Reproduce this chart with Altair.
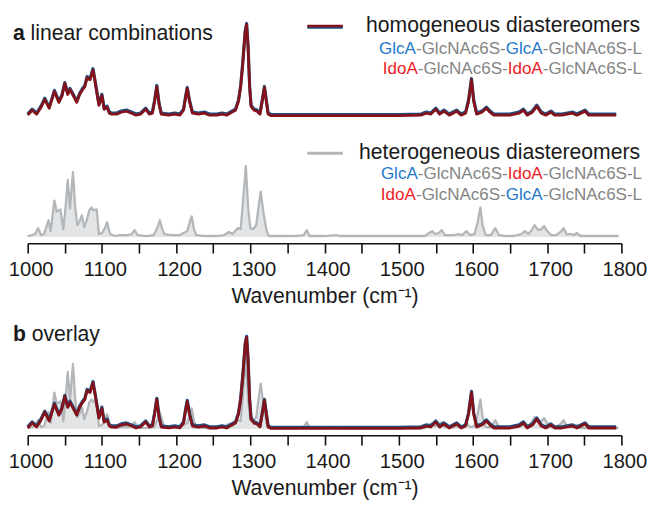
import altair as alt
import pandas as pd

FONT = "Liberation Sans"

# ---------------- data ----------------
homo_wn = [1000, 1006, 1012, 1018, 1023, 1029, 1036, 1042, 1046, 1050, 1054, 1057, 1062, 1066, 1070,
           1074, 1077, 1080, 1084, 1088, 1091, 1094, 1096, 1100, 1103, 1107, 1110, 1113, 1120, 1126,
           1133, 1140, 1146, 1152, 1159, 1164, 1168, 1171, 1174, 1177, 1180, 1190, 1198, 1205, 1210,
           1213, 1215, 1218, 1222, 1230, 1238, 1245, 1255, 1262, 1268, 1275, 1280, 1284, 1287, 1290,
           1293, 1295, 1297, 1299, 1301, 1305, 1309, 1313, 1316, 1319, 1321, 1324, 1328, 1360, 1400,
           1450, 1500, 1530, 1537, 1543, 1550, 1555, 1561, 1568, 1578, 1584, 1590, 1594, 1598, 1601,
           1605, 1612, 1618, 1623, 1628, 1650, 1662, 1668, 1673, 1680, 1686, 1692, 1698, 1705, 1710,
           1720, 1727, 1734, 1740, 1751, 1756, 1770, 1793]
homo_int = [1, 6, 2, 9, 17, 8, 25, 14, 20, 33, 22, 27, 20, 14, 22,
            27, 30, 39, 37, 47, 34, 20, 11, 21, 7, 9, 3, 2, 2, 4,
            5, 3, 1, 2, 7, 2, 3, 15, 30, 12, 2, 1, 2, 1, 6,
            20, 28, 15, 3, 2, 3, 1, 1, 2, 1, 4, 6, 15, 30, 55,
            85, 93, 70, 30, 10, 6, 5, 2, 15, 29, 18, 2, 0.5, 0.5, 0.5,
            0.5, 0.5, 1, 3, 2, 7, 2, 5, 1, 5, 1, 3, 15, 37, 15,
            2, 4, 8, 4, 1, 1, 3, 6, 1, 4, 10, 3, 1, 4, 1,
            1, 2, 3, 1, 5, 1, 1, 1]

het_wn = [1000, 1006, 1010, 1014, 1018, 1022, 1028, 1031, 1036, 1039, 1044, 1048, 1051, 1054, 1057,
          1061, 1064, 1067, 1070, 1073, 1076, 1080, 1083, 1086, 1089, 1093, 1096, 1100, 1104, 1107,
          1111, 1118, 1125, 1135, 1140, 1144, 1148, 1160, 1170, 1175, 1178, 1181, 1184, 1195, 1205,
          1215, 1218, 1221, 1224, 1227, 1240, 1255, 1265, 1271, 1276, 1283, 1287, 1290, 1294, 1297,
          1300, 1304, 1308, 1311, 1314, 1318, 1322, 1325, 1340, 1360, 1372, 1376, 1380, 1400, 1416,
          1420, 1500, 1535, 1541, 1545, 1549, 1554, 1558, 1562, 1575, 1580, 1586, 1591, 1596, 1602,
          1606, 1610, 1613, 1617, 1624, 1630, 1635, 1645, 1655, 1665, 1670, 1675, 1680, 1683, 1688,
          1692, 1696, 1700, 1705, 1712, 1718, 1722, 1726, 1732, 1736, 1740, 1745, 1760, 1780, 1796]
het_int = [1, 2, 3, 9, 2, 3, 17, 6, 37, 26, 28, 8, 30, 58, 29,
           66, 30, 12, 16, 22, 10, 18, 27, 30, 27, 28, 3, 4, 9, 15,
           3, 1, 2, 2, 3, 7, 2, 1, 2, 10, 17, 9, 3, 2, 2,
           6, 14, 21, 8, 2, 1, 1, 2, 5, 3, 9, 8, 35, 72, 30,
           9, 8, 12, 30, 46, 23, 6, 1, 1, 1, 2, 7, 1, 1, 2,
           1, 1, 1, 4, 6, 3, 4, 7, 2, 2, 3, 2, 6, 2, 3,
           14, 30, 12, 2, 2, 9, 2, 1, 1, 3, 6, 3, 8, 12, 7,
           8, 11, 6, 2, 2, 5, 9, 3, 3, 2, 4, 1, 1, 1, 1]

tick_values = [1000, 1050, 1100, 1150, 1200, 1250, 1300, 1350, 1400,
               1450, 1500, 1550, 1600, 1650, 1700, 1750, 1800]
x_domain = [1000, 1800]

# ---------------- style ----------------
RED = "#84121a"
BLUE = "#1f4f82"
GRAYL = "#b3b7ba"
FILL = "#e2e4e6"
TXT = "#1a1a1a"
BLUE_T = "#1f78c8"
RED_T = "#ee1c25"
GRAY_T = "#858585"

PW = 603
TITLE_SIZE = 21.5
SUB_SIZE = 17.3

title_a = ("a", "linear combinations")
title_b = ("b", "overlay")
homo_name = "homogeneous diastereomers"
het_name = "heterogeneous diastereomers"
homo_labels = [
    [("GlcA", BLUE_T), ("-GlcNAc6S-", GRAY_T), ("GlcA", BLUE_T), ("-GlcNAc6S-L", GRAY_T)],
    [("IdoA", RED_T), ("-GlcNAc6S-", GRAY_T), ("IdoA", RED_T), ("-GlcNAc6S-L", GRAY_T)],
]
het_labels = [
    [("GlcA", BLUE_T), ("-GlcNAc6S-", GRAY_T), ("IdoA", RED_T), ("-GlcNAc6S-L", GRAY_T)],
    [("IdoA", RED_T), ("-GlcNAc6S-", GRAY_T), ("GlcA", BLUE_T), ("-GlcNAc6S-L", GRAY_T)],
]

# Arial / Liberation Sans advance widths (1/1000 em)
AW = {'G': 778, 'l': 222, 'c': 500, 'A': 667, '-': 333, 'N': 722, '6': 556, 'S': 667,
      'L': 556, 'I': 278, 'd': 556, 'o': 556}


def tw(s, size):
    return sum(AW[ch] for ch in s) * size / 1000.0


ONE = pd.DataFrame({"k": [0]})


def txt(x, y, s, color, size, align="left", weight="normal"):
    return alt.Chart(ONE).mark_text(
        text=s, align=align, baseline="alphabetic", font=FONT, fontSize=size,
        fontWeight=weight, color=color
    ).encode(x=alt.value(x), y=alt.value(y))


def seg_layers(parts, right, y, size):
    out = []
    xr = right
    for s, color in reversed(parts):
        out.append(txt(xr, y, s, color, size, align="right"))
        xr -= tw(s, size)
    return out


def rule(x1, x2, y, color, w):
    return alt.Chart(ONE).mark_rule(color=color, strokeWidth=w).encode(
        x=alt.value(x1), x2=alt.value(x2), y=alt.value(y))


x_axis = alt.Axis(values=tick_values, format="d",
                  labelExpr="datum.value % 100 == 0 ? datum.label : ''",
                  title="Wavenumber (cm⁻¹)", grid=False,
                  tickSize=10, tickWidth=1.6, tickColor="#111111",
                  domainColor="#111111", domainWidth=1.6,
                  labelFont=FONT, labelFontSize=20.5, labelColor=TXT, labelPadding=7,
                  labelOffset=3, labelOverlap=False, labelFlush=False,
                  titleFont=FONT, titleFontSize=TITLE_SIZE, titleFontWeight="normal",
                  titleColor=TXT, titlePadding=6)

homo_df = pd.DataFrame({"wn": homo_wn, "v": homo_int})
het_df = pd.DataFrame({"wn": het_wn, "v": het_int})


def xe(axis):
    return alt.X("wn:Q", scale=alt.Scale(domain=x_domain, nice=False, zero=False), axis=axis)


def ye(dom):
    return alt.Y("v:Q", scale=alt.Scale(domain=dom, nice=False, zero=False), axis=None)


def homo_layers(axis, dom):
    blue = alt.Chart(homo_df).mark_line(color=BLUE, strokeWidth=3.2, yOffset=-1.2,
                                        strokeJoin="round").encode(x=xe(axis), y=ye(dom))
    red = alt.Chart(homo_df).mark_line(color=RED, strokeWidth=2.8,
                                       strokeJoin="round").encode(x=xe(axis), y=ye(dom))
    return [blue, red]


def het_layers(axis, dom):
    area = alt.Chart(het_df).mark_area(color=FILL).encode(x=xe(axis), y=ye(dom))
    line = alt.Chart(het_df).mark_line(color=GRAYL, strokeWidth=2.3,
                                       strokeJoin="round").encode(x=xe(axis), y=ye(dom))
    return [area, line]


LEG_X1, LEG_X2 = 284, 320
RIGHT_MAIN = 622
RIGHT_SUB = 624

# ---- panel a, homogeneous ----
dom_a1 = [-4, 106]
a1_layers = homo_layers(None, dom_a1) + [
    txt(-15, 28.7, title_a[0], TXT, TITLE_SIZE, weight="bold"),
    txt(-15 + 0.834 * TITLE_SIZE, 28.7, title_a[1], TXT, TITLE_SIZE),
    rule(LEG_X1, LEG_X2, 15.7, BLUE, 3),
    rule(LEG_X1, LEG_X2, 14.5, RED, 2.6),
    txt(RIGHT_MAIN, 21, homo_name, TXT, TITLE_SIZE, align="right"),
] + seg_layers(homo_labels[0], RIGHT_SUB, 42.7, SUB_SIZE) \
  + seg_layers(homo_labels[1], RIGHT_SUB, 62.7, SUB_SIZE)
A1 = alt.layer(*a1_layers).properties(width=PW, height=110)

# ---- panel a, heterogeneous ----
dom_a2 = [-6.3, 108.7]
a2_layers = het_layers(x_axis, dom_a2) + [
    rule(LEG_X1, LEG_X2, 23.7, GRAYL, 3),
    txt(RIGHT_MAIN, 29.4, het_name, TXT, TITLE_SIZE, align="right"),
] + seg_layers(het_labels[0], RIGHT_SUB, 49.4, SUB_SIZE) \
  + seg_layers(het_labels[1], RIGHT_SUB, 71, SUB_SIZE)
A2 = alt.layer(*a2_layers).properties(width=PW, height=115)

# ---- panel b, overlay ----
dom_b = [-6.3, 111.7]
b_layers = het_layers(x_axis, dom_b) + homo_layers(x_axis, dom_b) + [
    txt(-15, 22.7, title_b[0], TXT, TITLE_SIZE, weight="bold"),
    txt(-15 + 0.889 * TITLE_SIZE, 22.7, title_b[1], TXT, TITLE_SIZE),
]
B = alt.layer(*b_layers).properties(width=PW, height=118)

top = alt.vconcat(A1, A2, spacing=10)
chart = alt.vconcat(top, B, spacing=12).properties(
    padding=0, background="white"
).configure(font=FONT).configure_view(strokeWidth=0, stroke=None)

chart.save("out.html", embed_options={"renderer": "svg", "actions": False})
